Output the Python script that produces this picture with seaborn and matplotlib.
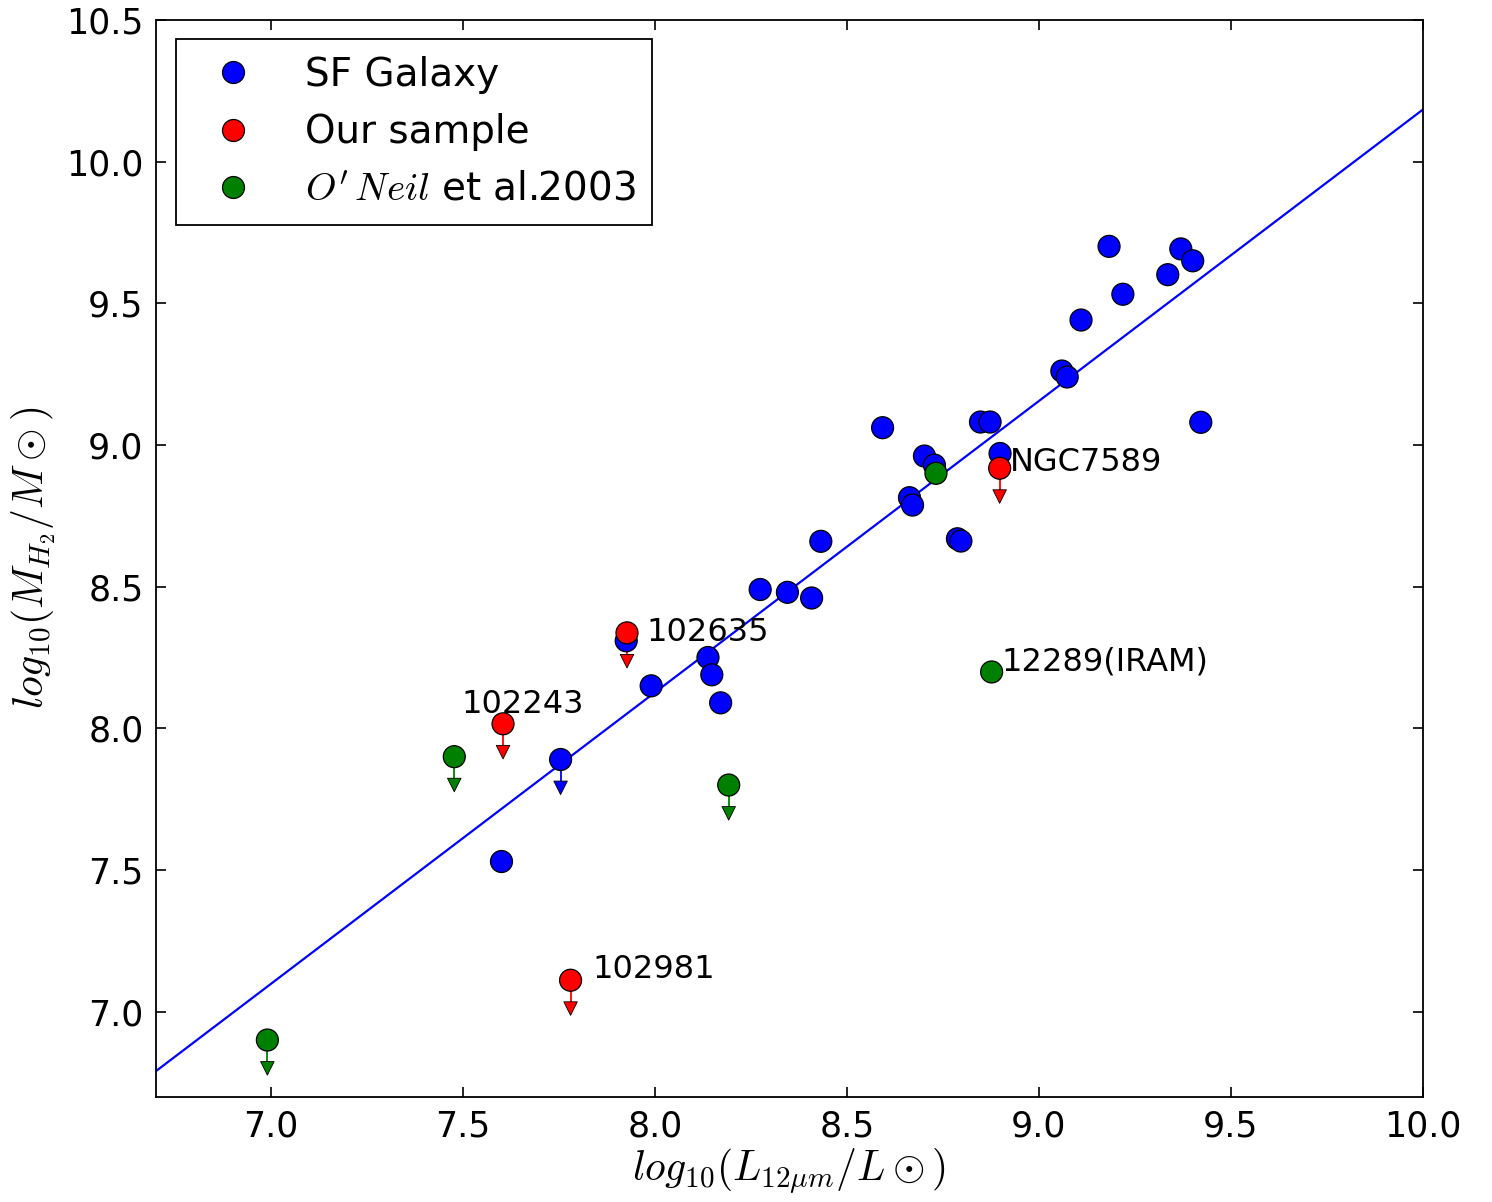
import matplotlib
matplotlib.use("Agg")
import matplotlib.pyplot as plt
from matplotlib.lines import Line2D
import numpy as np
import pandas as pd
import seaborn as sns

# ---------------- data ----------------
sf_x = [7.600, 7.754, 7.925, 7.990, 8.138, 8.148, 8.171, 8.274, 8.345, 8.408,
        8.432, 8.593, 8.663, 8.671, 8.702, 8.728, 8.788, 8.797, 8.848, 8.873,
        8.899, 9.060, 9.074, 9.110, 9.183, 9.219, 9.336, 9.370, 9.401, 9.422]
sf_y = [7.530, 7.890, 8.309, 8.150, 8.250, 8.189, 8.090, 8.490, 8.480, 8.460,
        8.660, 9.061, 8.814, 8.788, 8.961, 8.929, 8.669, 8.661, 9.081, 9.081,
        8.970, 9.261, 9.240, 9.441, 9.701, 9.532, 9.601, 9.692, 9.650, 9.080]
sf_ul = [False, True] + [False] * 28

our_x = [7.604, 7.927, 7.780, 8.898]
our_y = [8.016, 8.337, 7.111, 8.918]
our_ul = [True, True, True, True]
our_names = ["102243", "102635", "102981", "NGC7589"]

on_x = [6.990, 7.477, 8.192, 8.732, 8.877]
on_y = [6.900, 7.900, 7.800, 8.900, 8.199]
on_ul = [True, True, True, False, False]
on_names = ["", "", "", "", "12289(IRAM)"]

fit_slope = 1.028
fit_intercept = -0.097

groups = ["SF Galaxy", "Our sample", r"$O'\,Neil$ et al.2003"]
colors = {groups[0]: "#0000ff", groups[1]: "#ff0000", groups[2]: "#008000"}

x_ticks = [7.0, 7.5, 8.0, 8.5, 9.0, 9.5, 10.0]
y_ticks = [7.0, 7.5, 8.0, 8.5, 9.0, 9.5, 10.0, 10.5]

# ---------------- table ----------------
df = pd.concat([
    pd.DataFrame({"x": sf_x, "y": sf_y, "ul": sf_ul, "group": groups[0], "name": ""}),
    pd.DataFrame({"x": our_x, "y": our_y, "ul": our_ul, "group": groups[1], "name": our_names}),
    pd.DataFrame({"x": on_x, "y": on_y, "ul": on_ul, "group": groups[2], "name": on_names}),
], ignore_index=True)

# ---------------- style ----------------
sns.set_style("ticks")
plt.rcParams.update({
    "font.family": ["DejaVu Sans"],
    "mathtext.fontset": "cm",
    "xtick.direction": "in",
    "ytick.direction": "in",
    "xtick.top": True,
    "ytick.right": True,
    "axes.linewidth": 1.3,
    "axes.edgecolor": "black",
    "text.color": "black",
    "axes.labelcolor": "black",
    "xtick.color": "black",
    "ytick.color": "black",
})

fig = plt.figure(figsize=(14.92, 12.02), dpi=100)
ax = fig.add_axes([0.1046, 0.0876, 0.9535 - 0.1046, 0.9834 - 0.0876])

# fit line
fx = np.array([6.7, 10.0])
sns.lineplot(x=fx, y=fit_slope * fx + fit_intercept, ax=ax, color="#0000ff",
             linewidth=1.6, zorder=1)

# upper-limit arrows
arrow_len = 0.1
ul = df[df["ul"]]
for _, r in ul.iterrows():
    ax.plot([r["x"], r["x"]], [r["y"], r["y"] - arrow_len],
            color=colors[r["group"]], linewidth=1.3, zorder=2)
ul_tip = ul.assign(y=ul["y"] - arrow_len)
sns.scatterplot(data=ul_tip, x="x", y="y", hue="group", palette=colors,
                marker="v", s=95, edgecolor="black", linewidth=0.6,
                ax=ax, legend=False, zorder=2)

# main points
sns.scatterplot(data=df, x="x", y="y", hue="group", palette=colors,
                marker="o", s=250, edgecolor="black", linewidth=0.9,
                ax=ax, legend=False, zorder=3)

# labels
offsets = {"102243": (-30, 14), "102635": (14, 0), "102981": (16, 8),
           "NGC7589": (7, 4), "12289(IRAM)": (7, 7)}
for _, r in df[df["name"] != ""].iterrows():
    ax.annotate(r["name"], (r["x"], r["y"]), xytext=offsets[r["name"]],
                textcoords="offset points", ha="left", va="center",
                fontsize=23, color="black", zorder=4)

ax.set_xlim(6.7, 10.0)
ax.set_ylim(6.7, 10.5)
ax.set_xticks(x_ticks)
ax.set_yticks(y_ticks)
ax.set_xticklabels([f"{t:.1f}" for t in x_ticks])
ax.set_yticklabels([f"{t:.1f}" for t in y_ticks])
ax.tick_params(labelsize=25, length=7, width=1.2, pad=9)
ax.set_xlabel(r"$log_{10}(L_{12\mu m}/L\odot)$", fontsize=30, labelpad=2)
ax.set_ylabel(r"$log_{10}(M_{H_2}/M\odot)$", fontsize=30, labelpad=6)

handles = [Line2D([], [], linestyle="", marker="o", markersize=15.8,
                  markerfacecolor=colors[g], markeredgecolor="black",
                  markeredgewidth=0.9) for g in groups]
leg = ax.legend(handles, groups, loc="upper left", fontsize=28,
                frameon=True, fancybox=False, framealpha=1,
                edgecolor="black", borderpad=0.42, handlelength=2.1,
                handletextpad=0.8, labelspacing=0.5, borderaxespad=0.5,
                numpoints=1)
leg.get_frame().set_linewidth(1.3)

fig.savefig("out.png", dpi=100)
